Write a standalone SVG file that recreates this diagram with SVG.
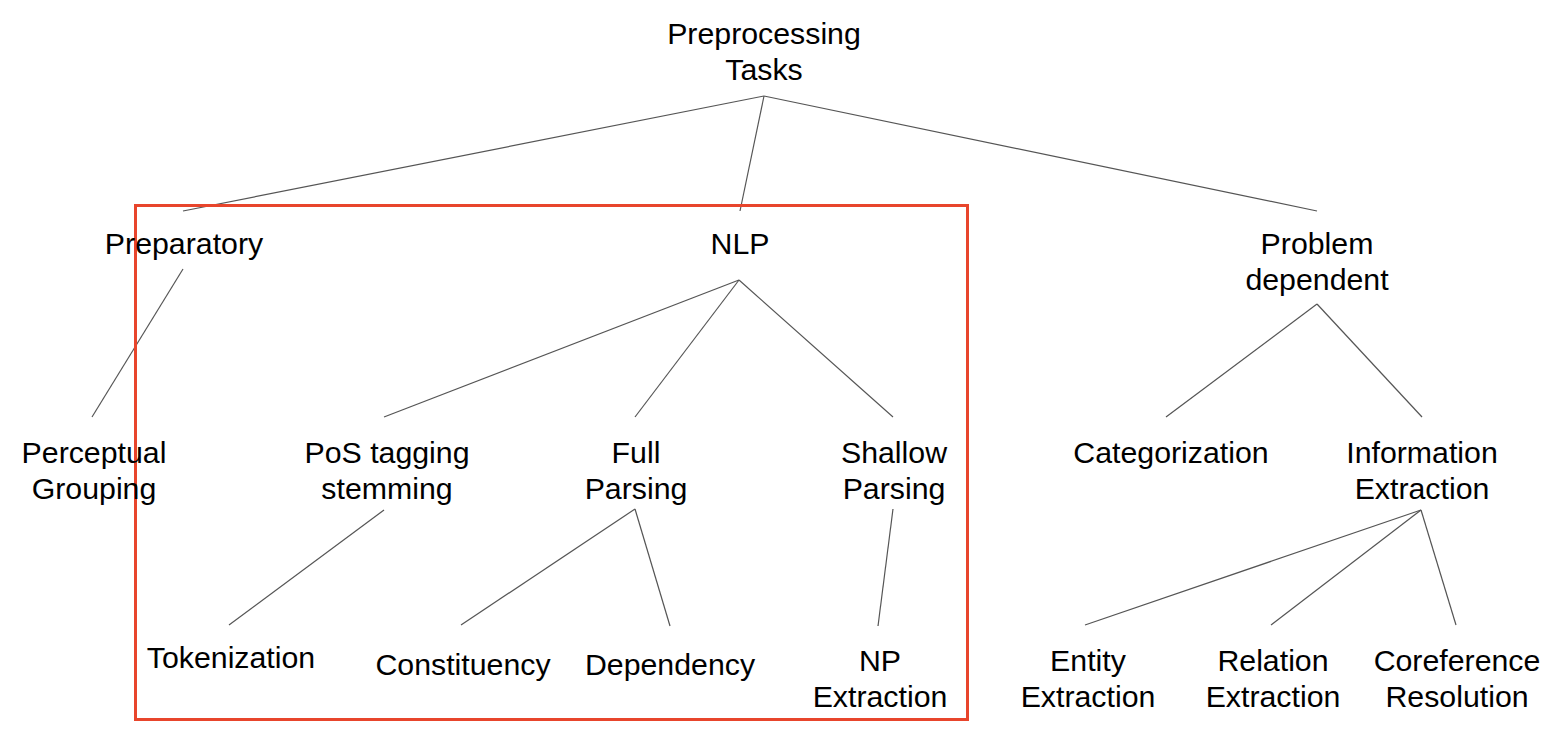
<svg xmlns="http://www.w3.org/2000/svg" width="1561" height="731" viewBox="0 0 1561 731">
<style>
text{font-family:"Liberation Sans",Arial,Helvetica,sans-serif;font-size:30.3px;fill:#000;text-anchor:middle}
.c line{stroke:#555;stroke-width:1.2}
.box{fill:none;stroke:#e8452c;stroke-width:3}
</style>
<rect width="1561" height="731" fill="#fff"/>
<g class="c" id="connectors">
<line x1="764" y1="96" x2="183" y2="211"/>
<line x1="764" y1="96" x2="740" y2="211"/>
<line x1="764" y1="96" x2="1317" y2="211"/>
<line x1="183" y1="269" x2="92" y2="417"/>
<line x1="739" y1="280" x2="384" y2="417"/>
<line x1="739" y1="280" x2="635" y2="417"/>
<line x1="739" y1="280" x2="893" y2="417"/>
<line x1="1317" y1="304" x2="1166" y2="417"/>
<line x1="1317" y1="304" x2="1422" y2="417"/>
<line x1="384" y1="510" x2="229" y2="625"/>
<line x1="635" y1="509" x2="461" y2="625"/>
<line x1="635" y1="509" x2="670" y2="626"/>
<line x1="893" y1="509" x2="878" y2="626"/>
<line x1="1421" y1="510" x2="1085" y2="625"/>
<line x1="1421" y1="510" x2="1271" y2="625"/>
<line x1="1421" y1="510" x2="1456" y2="625"/>
</g>
<rect id="nlp-box" class="box" x="135.5" y="205.5" width="832" height="514"/>
<g id="n-root"><text x="764" y="44">Preprocessing</text><text x="764" y="80">Tasks</text></g>
<g id="n-preparatory"><text x="184" y="254">Preparatory</text></g>
<g id="n-nlp"><text x="740" y="254">NLP</text></g>
<g id="n-problem"><text x="1317" y="254">Problem</text><text x="1317" y="290">dependent</text></g>
<g id="n-perceptual"><text x="94" y="463">Perceptual</text><text x="94" y="499">Grouping</text></g>
<g id="n-pos"><text x="387" y="463">PoS tagging</text><text x="387" y="499">stemming</text></g>
<g id="n-full"><text x="636" y="463">Full</text><text x="636" y="499">Parsing</text></g>
<g id="n-shallow"><text x="894" y="463">Shallow</text><text x="894" y="499">Parsing</text></g>
<g id="n-cat"><text x="1171" y="463">Categorization</text></g>
<g id="n-ie"><text x="1422" y="463">Information</text><text x="1422" y="499">Extraction</text></g>
<g id="n-tok"><text x="231" y="668">Tokenization</text></g>
<g id="n-const"><text x="463" y="675">Constituency</text></g>
<g id="n-dep"><text x="670" y="675">Dependency</text></g>
<g id="n-np"><text x="880" y="671">NP</text><text x="880" y="707">Extraction</text></g>
<g id="n-entity"><text x="1088" y="671">Entity</text><text x="1088" y="707">Extraction</text></g>
<g id="n-relation"><text x="1273" y="671">Relation</text><text x="1273" y="707">Extraction</text></g>
<g id="n-coref"><text x="1457" y="671">Coreference</text><text x="1457" y="707">Resolution</text></g>
</svg>
